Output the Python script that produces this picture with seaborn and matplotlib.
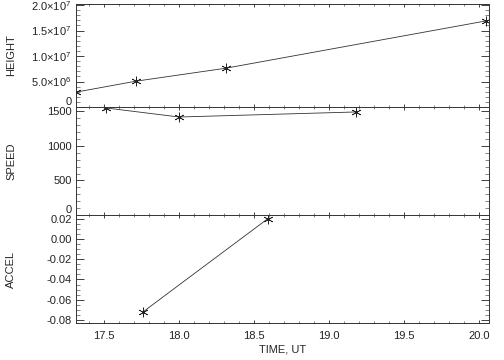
import numpy as np
import pandas as pd
import seaborn as sns
import matplotlib.pyplot as plt
from matplotlib.ticker import MultipleLocator, FixedLocator

# Values
height_time = [17.31, 17.71, 18.31, 20.05]
height = [2.9e6, 5.05e6, 7.6e6, 1.69e7]

speed_time = [17.51, 18.0, 19.18]
speed = [1552, 1420, 1493]

accel_time = [17.76, 18.59]
accel = [-0.072, 0.0198]

height_ticks = [0, 5.0e6, 1.0e7, 1.5e7, 2.0e7]
height_labels = ["0", r"5.0$\times$10$^{6}$", r"1.0$\times$10$^{7}$",
                 r"1.5$\times$10$^{7}$", r"2.0$\times$10$^{7}$"]
speed_ticks = [0, 500, 1000, 1500]
speed_labels = ["0", "500", "1000", "1500"]
accel_ticks = [-0.08, -0.06, -0.04, -0.02, 0.00, 0.02]
accel_labels = ["-0.08", "-0.06", "-0.04", "-0.02", "0.00", "0.02"]
time_ticks = [17.5, 18.0, 18.5, 19.0, 19.5, 20.0]
time_labels = ["17.5", "18.0", "18.5", "19.0", "19.5", "20.0"]

sns.set_style("ticks")
plt.rcParams["font.family"] = ["Liberation Sans", "DejaVu Sans"]
plt.rcParams["mathtext.fontset"] = "custom"
plt.rcParams["mathtext.rm"] = "Liberation Sans"
plt.rcParams["font.size"] = 8

W, H = 504, 360
fig = plt.figure(figsize=(5.04, 3.6), dpi=100)

def px_axes(top, bottom):
    return fig.add_axes([76 / W, 1 - bottom / H, (489 - 76) / W, (bottom - top) / H])

ax_h = px_axes(4, 107)
ax_s = px_axes(107, 215)
ax_a = px_axes(215, 323)

star = (6, 2, 0)
line_kw = dict(color="#333333", linewidth=0.6, marker=star, markersize=7,
               markeredgewidth=0.5, markeredgecolor="#222222")

sns.lineplot(x=height_time, y=height, ax=ax_h, **line_kw)
sns.lineplot(x=speed_time, y=speed, ax=ax_s, **line_kw)
sns.lineplot(x=accel_time, y=accel, ax=ax_a, **line_kw)

ax_h.set_ylim(0, 2.02e7)
ax_s.set_ylim(0, 1565)
ax_a.set_ylim(-0.083, 0.0237)

setup = [
    (ax_h, height_ticks, height_labels, 1.0e6, "HEIGHT"),
    (ax_s, speed_ticks, speed_labels, 100, "SPEED"),
    (ax_a, accel_ticks, accel_labels, 0.005, "ACCEL"),
]
for ax, ticks, labels, minor, name in setup:
    ax.set_xlim(17.313, 20.067)
    ax.yaxis.set_major_locator(FixedLocator(ticks))
    ax.set_yticklabels(labels)
    ax.yaxis.set_minor_locator(MultipleLocator(minor))
    ax.xaxis.set_major_locator(FixedLocator(time_ticks))
    ax.xaxis.set_minor_locator(MultipleLocator(0.1))
    ax.tick_params(axis="y", which="major", direction="in", length=6, width=0.6,
                   left=True, right=True, pad=3, labelsize=8, colors="#222222")
    ax.tick_params(axis="y", which="minor", direction="in", length=3, width=0.5,
                   left=True, right=True, colors="#555555")
    ax.tick_params(axis="x", which="major", direction="in", length=2.5, width=0.6,
                   top=True, bottom=True, labelsize=8, pad=6, colors="#222222")
    ax.tick_params(axis="x", which="minor", direction="in", length=1.5, width=0.5,
                   top=True, bottom=True, colors="#555555")
    ax.set_ylabel(name, fontsize=8)
    ax.yaxis.set_label_coords(-0.145, 0.5)
    for sp in ax.spines.values():
        sp.set_visible(True)
        sp.set_linewidth(0.7)
        sp.set_color("#333333")
    ax.set_facecolor("white")

ax_h.tick_params(axis="x", labelbottom=False)
ax_s.tick_params(axis="x", labelbottom=False)
ax_a.set_xlabel("TIME, UT", fontsize=8, labelpad=2)

# lift the zero labels above the panel boundary, as in the original
for ax in (ax_h, ax_s):
    lab = ax.get_yticklabels()[0]
    lab.set_verticalalignment("bottom")

fig.savefig("out.png", dpi=100, facecolor="white")
